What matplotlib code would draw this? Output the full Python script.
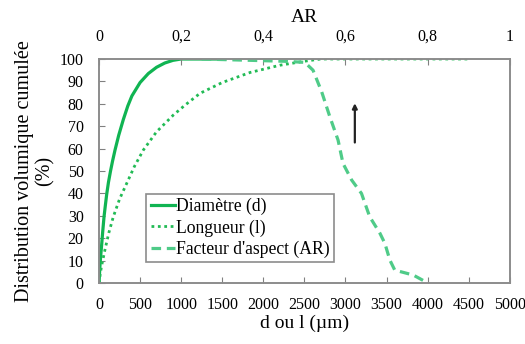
import matplotlib.pyplot as plt
from matplotlib.lines import Line2D

# diameter distribution (bottom axis, µm)
d_diam = [0, 10, 20, 32, 45, 61, 75, 93, 115, 140, 165, 195, 240, 296, 350, 400,
          500, 600, 700, 800, 900, 1000, 1550]
pct_diam = [0, 7, 12, 17, 23, 29.6, 34, 39.5, 45, 50, 54.5, 59.4, 66, 73, 79, 83.5,
            89.5, 93.5, 96.3, 98.2, 99.4, 100, 100]

# length distribution (bottom axis, µm)
l_long = [0, 15, 30, 50, 73, 120, 174, 250, 337, 430, 540, 700, 905, 1050, 1230,
          1500, 1840, 2200, 2500, 2700, 4500]
pct_long = [0, 4, 7.5, 11, 15, 22.5, 29.6, 37.5, 44.5, 52, 59.4, 67.5, 75, 79.5, 84.7,
            89.5, 94, 97.2, 99, 100, 100]

# aspect ratio distribution (top axis)
ar = [0.25, 0.35, 0.45, 0.501, 0.521, 0.542, 0.562, 0.582, 0.594, 0.615,
      0.639, 0.659, 0.684, 0.696, 0.708, 0.720, 0.765, 0.801]
pct_ar = [100, 99.5, 99, 98.5, 95, 85.4, 74.2, 63.8, 53.4, 46,
          40, 29.6, 22.2, 17.7, 10.3, 5.8, 3.6, 0]

x_ticks = list(range(0, 5001, 500))
y_ticks = list(range(0, 101, 10))
ar_ticks = [0, 0.2, 0.4, 0.6, 0.8, 1]
ar_labels = ['0', '0,2', '0,4', '0,6', '0,8', '1']

plt.rcParams['font.family'] = ['Liberation Serif', 'DejaVu Serif']

fig = plt.figure(figsize=(5.25, 3.44), dpi=100)
ax = fig.add_axes([0.1886, 0.177, 0.7824, 0.6515])

c_solid = '#10b452'
c_dot = '#22bb55'
c_dash = '#4fcb88'

ax.plot(d_diam, pct_diam, color=c_solid, lw=2.3, solid_capstyle='butt')
ax.plot(l_long, pct_long, color=c_dot, lw=2.0, linestyle=(0, (1, 1.3)))
ax.set_xlim(0, 5000)
ax.set_ylim(0, 100)
ax.set_xticks(x_ticks)
ax.set_yticks(y_ticks)
ax.tick_params(axis='x', direction='in', length=4, color='#808080', pad=10, labelsize=11.5)
ax.tick_params(axis='y', direction='in', length=4, color='#808080', pad=11, labelsize=11.5)
ax.set_xlabel('d ou l (µm)', fontsize=14, labelpad=1)
ax.set_ylabel('Distribution volumique cumulée\n(%)', fontsize=14.5, labelpad=4,
              linespacing=1.1)

ax2 = ax.twiny()
ax2.plot(ar, pct_ar, color=c_dash, lw=2.3, linestyle=(0, (3, 1.8)))
ax2.set_xlim(0, 1)
ax2.set_xticks(ar_ticks)
ax2.set_xticklabels(ar_labels)
ax2.tick_params(direction='in', length=4, color='#808080', pad=10, labelsize=11.5)
ax2.set_xlabel('AR', fontsize=14, labelpad=5)

for a in (ax, ax2):
    for s in a.spines.values():
        s.set_color('#8c8c8c')
        s.set_linewidth(1.2)

ax.annotate('', xy=(3114, 81.5), xytext=(3114, 61.5),
            arrowprops=dict(arrowstyle='-|>', color='#222222', lw=1.6,
                            mutation_scale=7))

handles = [
    Line2D([], [], color=c_solid, lw=2.3),
    Line2D([], [], color=c_dot, lw=2.0, linestyle=(0, (1, 1.3))),
    Line2D([], [], color=c_dash, lw=2.3, linestyle=(0, (3, 1.8))),
]
labels = ['Diamètre (d)', 'Longueur (l)', "Facteur d'aspect (AR)"]
leg = ax.legend(handles, labels, loc='lower left', bbox_to_anchor=(0.115, 0.093),
                fancybox=False, framealpha=1, edgecolor='#8c8c8c',
                handlelength=1.4, handletextpad=0.05, borderpad=0.25,
                labelspacing=0.22, borderaxespad=0, fontsize=12.7)
leg.get_frame().set_linewidth(1.2)

fig.savefig('out.png', dpi=100)
